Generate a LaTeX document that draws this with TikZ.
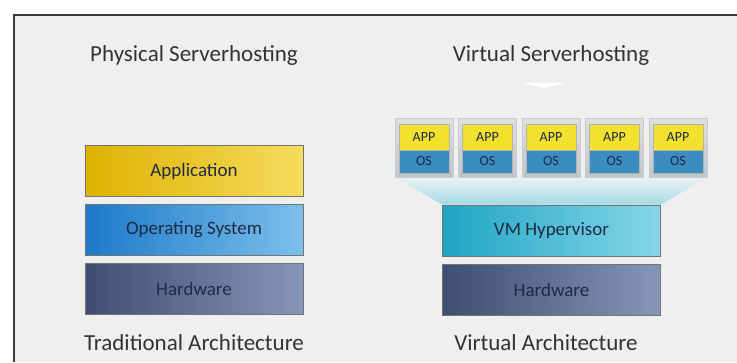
\documentclass[tikz,border=0pt]{standalone}
\usepackage{fontspec}
\setmainfont{Carlito}
\usetikzlibrary{backgrounds}
\definecolor{panelgray}{HTML}{EFEFEF}
\definecolor{bordergray}{HTML}{3A3A3A}
\definecolor{captiongray}{HTML}{333333}
\definecolor{labelnavy}{HTML}{1F2A44}
\definecolor{appgold}{HTML}{DDB200}
\definecolor{applight}{HTML}{F7DC5E}
\definecolor{osblue}{HTML}{1C79C9}
\definecolor{oslight}{HTML}{7CC0EC}
\definecolor{hwslate}{HTML}{3F4D72}
\definecolor{hwlight}{HTML}{8795B7}
\definecolor{hvteal}{HTML}{1FA5C3}
\definecolor{hvlight}{HTML}{86D6E8}
\definecolor{vmyellow}{HTML}{F2E22E}
\definecolor{vmblue}{HTML}{3B8CC0}
\definecolor{frametop}{HTML}{DCE0E3}
\definecolor{framebottom}{HTML}{BFC6CC}
\definecolor{funneltop}{HTML}{EAF3F5}
\definecolor{funnelbottom}{HTML}{A6DAE4}
\tikzstyle{caption} = [font=\fontsize{23}{27}\selectfont, text=captiongray]
\tikzstyle{layer} = [rectangle, minimum width=218pt, minimum height=51pt, text centered, draw=black!55, line width=0.8pt, font=\fontsize{19}{22}\selectfont, text=labelnavy]
\tikzstyle{appbox} = [layer, left color=appgold, middle color=appgold, right color=applight]
\tikzstyle{osbox} = [layer, left color=osblue, middle color=osblue, right color=oslight]
\tikzstyle{hwbox} = [layer, left color=hwslate, middle color=hwslate, right color=hwlight]
\tikzstyle{hvbox} = [layer, left color=hvteal, middle color=hvteal, right color=hvlight]
\tikzstyle{vmframe} = [rectangle, minimum width=58pt, minimum height=59pt, draw=gray!40, top color=frametop, bottom color=framebottom]
\tikzstyle{vmapp} = [rectangle, minimum width=50pt, minimum height=26pt, inner sep=0pt, fill=vmyellow, draw=gray!60, font=\fontsize{14}{16}\selectfont, text=labelnavy]
\tikzstyle{vmos} = [vmapp, minimum height=23pt, fill=vmblue]

\begin{document}
\begin{tikzpicture}[x=1pt, y=-1pt, node distance=59pt]
\useasboundingbox (0,0) rectangle (737,362);
\node (physical) [caption] at (194,55) {Physical Serverhosting};
\node (virtual) [caption] at (551,55) {Virtual Serverhosting};
\node (application) [appbox] at (194,171) {Application};
\node (opsys) [osbox, below of = application] {Operating System};
\node (hardware) [hwbox, below of = opsys] {Hardware};
\node (traditional) [caption] at (194,343) {Traditional Architecture};
\node (hypervisor) [hvbox] at (551.5,230.5) {VM Hypervisor};
\node (hostware) [hwbox, below of = hypervisor] {Hardware};
\node (virtualarch) [caption] at (546,343) {Virtual Architecture};
\node (vm1) [vmframe] at (424,147.5) {};
\node (vm2) [vmframe, right of = vm1, xshift=4.5pt] {};
\node (vm3) [vmframe, right of = vm2, xshift=4.5pt] {};
\node (vm4) [vmframe, right of = vm3, xshift=4.5pt] {};
\node (vm5) [vmframe, right of = vm4, xshift=4.5pt] {};
\node (app1) [vmapp, yshift=10.5pt] at (vm1) {APP};
\node (os1) [vmos, yshift=-14pt] at (vm1) {OS};
\node (app2) [vmapp, yshift=10.5pt] at (vm2) {APP};
\node (os2) [vmos, yshift=-14pt] at (vm2) {OS};
\node (app3) [vmapp, yshift=10.5pt] at (vm3) {APP};
\node (os3) [vmos, yshift=-14pt] at (vm3) {OS};
\node (app4) [vmapp, yshift=10.5pt] at (vm4) {APP};
\node (os4) [vmos, yshift=-14pt] at (vm4) {OS};
\node (app5) [vmapp, yshift=10.5pt] at (vm5) {APP};
\node (os5) [vmos, yshift=-14pt] at (vm5) {OS};
\begin{scope}[on background layer]
\fill[white] (0,0) rectangle (737,362);
\fill[panelgray] (14,15) rectangle (737,362);
\draw[line width=1.5pt, bordergray] (737,15) -- (14,15) -- (14,362);
\shade[top color=funneltop, bottom color=funnelbottom] (vm1.south west) -- (vm5.south east) -- (hypervisor.north east) -- (hypervisor.north west) -- cycle;
\fill[white] (522,83) -- (566,83) -- (544,88) -- cycle;
\end{scope}
\end{tikzpicture}
\end{document}
